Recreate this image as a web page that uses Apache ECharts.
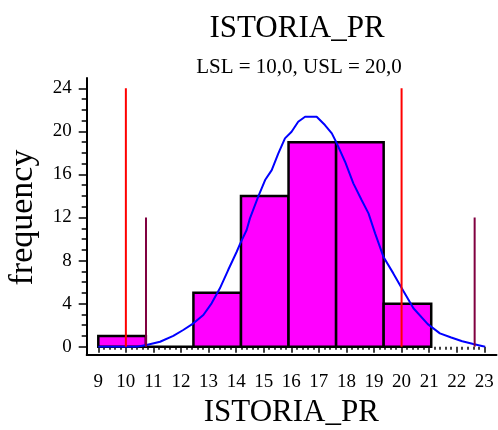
<!DOCTYPE html>
<html>
<head>
<meta charset="utf-8">
<script src="https://cdn.jsdelivr.net/npm/echarts@6/dist/echarts.min.js"></script>
<style>
  html, body { margin: 0; padding: 0; background: #fff; }
  #chart { width: 498px; height: 430px; }
</style>
</head>
<body>
<div id="chart"></div>
<script>
// histogram bins (edges) and counts
const binEdges = [9.0, 10.725, 12.45, 14.175, 15.9, 17.625, 19.35, 21.075];
const binCounts = [1, 0, 5, 14, 19, 19, 4];

// fitted curve
const curveX = [9.0, 10.4, 10.75, 11.24, 11.72, 12.08, 12.45, 12.81, 13.11, 13.41, 13.71, 14.02, 14.15, 14.38, 14.5, 14.8, 15.05, 15.29, 15.53, 15.77, 16.01, 16.25, 16.5, 16.92, 17.22, 17.47, 17.65, 17.95, 18.25, 18.55, 18.8, 19.04, 19.34, 19.7, 20.06, 20.43, 20.95, 21.39, 21.8, 22.2, 22.6, 23.03];
const curveY = [0, 0, 0.16, 0.46, 1.0, 1.55, 2.17, 2.94, 4.03, 5.42, 7.12, 8.82, 9.6, 10.84, 11.92, 13.93, 15.48, 16.4, 17.96, 19.35, 19.96, 20.89, 21.36, 21.36, 20.59, 19.81, 18.89, 17.18, 15.17, 13.62, 12.38, 10.53, 8.36, 6.81, 5.2, 3.57, 2.1, 1.24, 0.85, 0.5, 0.25, 0.0];

// spec limits (red) and +-3 sigma (purple)
const specX = [10, 20];
const specHeight = 24;
const sigmaX = [10.73, 22.65];
const sigmaHeight = 12;

const xTickMin = 9, xTickMax = 23;
const yTickMin = 0, yTickMax = 24;

const font = 'Liberation Serif, Times New Roman, serif';

const myChart = echarts.init(document.getElementById('chart'));

const vline = (x, h, color) => ({
  type: 'line',
  xAxisIndex: 0,
  yAxisIndex: 0,
  data: [[x, 0], [x, h]],
  showSymbol: false,
  symbol: 'none',
  lineStyle: { color: color, width: 2 },
  z: 5
});

const option = {
  animation: false,
  title: [
    {
      text: 'ISTORIA_PR',
      left: 292,
      top: 8,
      textAlign: 'center',
      textStyle: { fontFamily: font, fontSize: 31, fontWeight: 'normal', color: '#000' }
    },
    {
      text: 'LSL = 10,0, USL = 20,0',
      left: 294,
      top: 52,
      textAlign: 'center',
      textStyle: { fontFamily: font, fontSize: 21, fontWeight: 'normal', color: '#000' }
    }
  ],
  grid: [
    { left: 98.3, right: 13.7, top: 88.3, bottom: 83.3, outerBoundsMode: 'none', containLabel: false },
    // frame for the long axis lines
    { left: 86.7, right: 1.5, top: 78, bottom: 75, outerBoundsMode: 'none', containLabel: false }
  ],
  xAxis: [
    {
      gridIndex: 0,
      type: 'value',
      min: xTickMin,
      max: xTickMax,
      interval: 1,
      offset: 8,
      axisLine: { show: false },
      axisTick: { length: 6, lineStyle: { color: '#000', width: 1.5 } },
      minorTick: { show: true, splitNumber: 5, length: 3, lineStyle: { color: '#000', width: 1.5 } },
      splitLine: { show: false },
      axisLabel: { fontFamily: font, fontSize: 19, color: '#000', margin: 18 },
      name: 'ISTORIA_PR',
      nameLocation: 'middle',
      nameGap: 43,
      nameTextStyle: { fontFamily: font, fontSize: 31, color: '#000' }
    },
    {
      gridIndex: 1,
      type: 'value',
      min: 0,
      max: 1,
      axisLine: { show: true, lineStyle: { color: '#000', width: 2 } },
      axisTick: { show: false },
      axisLabel: { show: false },
      splitLine: { show: false }
    }
  ],
  yAxis: [
    {
      gridIndex: 0,
      type: 'value',
      min: yTickMin,
      max: yTickMax,
      interval: 4,
      offset: 11.6,
      axisLine: { show: false },
      axisTick: { length: 8, lineStyle: { color: '#000', width: 1.5 } },
      minorTick: { show: true, splitNumber: 4, length: 5, lineStyle: { color: '#000', width: 1.5 } },
      splitLine: { show: false },
      axisLabel: { fontFamily: font, fontSize: 19, color: '#000', margin: 15 },
      name: 'frequency',
      nameLocation: 'middle',
      nameGap: 47,
      nameTextStyle: { fontFamily: font, fontSize: 34, color: '#000' }
    },
    {
      gridIndex: 1,
      type: 'value',
      min: 0,
      max: 1,
      axisLine: { show: true, lineStyle: { color: '#000', width: 2 } },
      axisTick: { show: false },
      axisLabel: { show: false },
      splitLine: { show: false }
    }
  ],
  series: [
    {
      type: 'custom',
      xAxisIndex: 0,
      yAxisIndex: 0,
      data: binCounts.map((c, i) => [binEdges[i], binEdges[i + 1], c]),
      encode: { x: [0, 1], y: 2 },
      renderItem: (params, api) => {
        const p0 = api.coord([api.value(0), api.value(2)]);
        const p1 = api.coord([api.value(1), 0]);
        return {
          type: 'rect',
          shape: { x: p0[0], y: p0[1], width: p1[0] - p0[0], height: p1[1] - p0[1] },
          style: { fill: '#FF00FF', stroke: '#000', lineWidth: 2.5 }
        };
      },
      z: 2
    },
    {
      type: 'line',
      xAxisIndex: 0,
      yAxisIndex: 0,
      data: curveX.map((x, i) => [x, curveY[i]]),
      showSymbol: false,
      symbol: 'none',
      lineStyle: { color: '#0000FF', width: 2 },
      z: 4
    },
    vline(specX[0], specHeight, '#FF0000'),
    vline(specX[1], specHeight, '#FF0000'),
    vline(sigmaX[0], sigmaHeight, '#800040'),
    vline(sigmaX[1], sigmaHeight, '#800040')
  ]
};

option && myChart.setOption(option);
window.addEventListener('resize', myChart.resize);
</script>
</body>
</html>
